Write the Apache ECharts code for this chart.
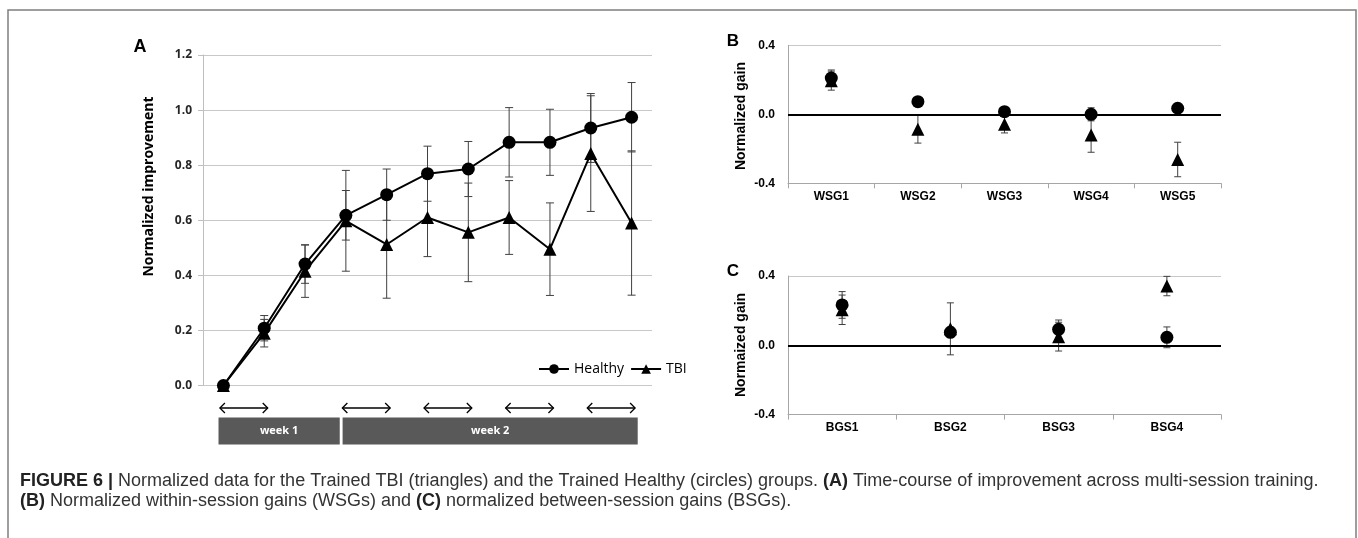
<!DOCTYPE html>
<html><head><meta charset="utf-8">
<script src="https://cdn.jsdelivr.net/npm/echarts@6/dist/echarts.min.js"></script>
<style>html,body{margin:0;padding:0;background:#fff}#c{width:1358px;height:538px}</style>
</head><body><div id="c"></div>
<script>
// ---- Panel A: time course ----
const sessionsA = ['1','2','3','4','5','6','7','8','9','10','11'];
const healthyA = [0.0, 0.208, 0.441, 0.618, 0.693, 0.769, 0.786, 0.883, 0.883, 0.935, 0.974];
const healthyErrA = [0, 0.046, 0.07, 0.09, 0.093, 0.10, 0.10, 0.126, 0.12, 0.125, 0.126];
const tbiA = [0.0, 0.19, 0.415, 0.598, 0.512, 0.61, 0.556, 0.61, 0.495, 0.842, 0.59];
const tbiErrA = [0, 0.05, 0.095, 0.183, 0.195, 0.142, 0.179, 0.134, 0.168, 0.21, 0.262];
const arrowPairsA = [[0,1],[3,4],[5,6],[7,8],[9,10]];
const weekLabels = ['week 1','week 2'];
const weekSpans = [[-0.12, 2.85],[2.92, 10.15]];
// ---- Panel B: within-session gains ----
const wsgCats = ['WSG1','WSG2','WSG3','WSG4','WSG5'];
const healthyB = [0.21, 0.073, 0.015, 0.0, 0.035];
const healthyErrB = [0.047, 0.02, 0.02, 0.038, 0.015];
const tbiB = [0.195, -0.087, -0.058, -0.12, -0.262];
const tbiErrB = [0.055, 0.08, 0.05, 0.1, 0.1];
// ---- Panel C: between-session gains ----
const bsgCats = ['BGS1','BSG2','BSG3','BSG4'];
const healthyC = [0.233, 0.075, 0.092, 0.046];
const healthyErrC = [0.077, 0.03, 0.054, 0.06];
const tbiC = [0.205, 0.095, 0.05, 0.342];
const tbiErrC = [0.085, 0.15, 0.083, 0.056];

const chart = echarts.init(document.getElementById('c'), null, {renderer:'canvas'});

function errData(vals, errs){ return vals.map((v,i)=>[i, v, errs[i]]); }
function errRender(hw, color){
  return function(params, api){
    const x = api.value(0), v = api.value(1), e = api.value(2);
    if (!e) return null;
    const hi = api.coord([x, v + e]), lo = api.coord([x, v - e]);
    const st = {stroke: color, lineWidth: 1};
    return {type:'group', children:[
      {type:'line', shape:{x1:hi[0], y1:hi[1], x2:lo[0], y2:lo[1]}, style:st},
      {type:'line', shape:{x1:hi[0]-hw, y1:hi[1], x2:hi[0]+hw, y2:hi[1]}, style:st},
      {type:'line', shape:{x1:lo[0]-hw, y1:lo[1], x2:lo[0]+hw, y2:lo[1]}, style:st}
    ]};
  };
}
const fA = 'Open Sans', fB = 'Liberation Sans';
const zeroLine = {silent:true, symbol:'none', label:{show:false}, lineStyle:{color:'#000', width:2, type:'solid', opacity:1}, data:[{yAxis:0}]};
const blackMark = {color:'#000', opacity:1};

const option = {
  animation:false,
  grid:[
    {left:203, right:706, top:55, bottom:152.5},
    {left:788, right:137, top:45.3, bottom:354.7},
    {left:788, right:137, top:276, bottom:123.4}
  ],
  legend:{data:['Healthy','TBI'], left:533, top:357, itemWidth:30, itemHeight:12, itemGap:6,
    textStyle:{fontFamily:fA, fontSize:14, color:'#000'}},
  xAxis:[
    {gridIndex:0, type:'category', data:sessionsA, boundaryGap:true,
     axisLine:{show:false}, axisTick:{show:false}, axisLabel:{show:false}},
    {gridIndex:1, type:'category', data:wsgCats, boundaryGap:true,
     axisLine:{onZero:false, lineStyle:{color:'#a6a6a6'}}, axisTick:{show:true, length:5, lineStyle:{color:'#a6a6a6'}},
     axisLabel:{fontFamily:fB, fontWeight:'bold', fontSize:12, color:'#000', margin:7}},
    {gridIndex:2, type:'category', data:bsgCats, boundaryGap:true,
     axisLine:{onZero:false, lineStyle:{color:'#a6a6a6'}}, axisTick:{show:true, length:5, lineStyle:{color:'#a6a6a6'}},
     axisLabel:{fontFamily:fB, fontWeight:'bold', fontSize:12, color:'#000', margin:7}}
  ],
  yAxis:[
    {gridIndex:0, type:'value', min:0, max:1.2, interval:0.2,
     axisLine:{show:true, lineStyle:{color:'#bfbfbf'}}, axisTick:{show:true, length:5, lineStyle:{color:'#bfbfbf'}},
     splitLine:{lineStyle:{color:'#c8c8c8', width:1}},
     axisLabel:{fontFamily:fA, fontWeight:'bold', fontSize:12, color:'#262626', margin:11, formatter:v=>v.toFixed(1)}},
    {gridIndex:1, type:'value', min:-0.4, max:0.4, interval:0.4,
     axisLine:{show:true, lineStyle:{color:'#a6a6a6'}}, axisTick:{show:false},
     splitLine:{lineStyle:{color:'#c8c8c8', width:1}},
     axisLabel:{fontFamily:fB, fontWeight:'bold', fontSize:12, color:'#000', margin:13, formatter:v=>v.toFixed(1)}},
    {gridIndex:2, type:'value', min:-0.4, max:0.4, interval:0.4,
     axisLine:{show:true, lineStyle:{color:'#a6a6a6'}}, axisTick:{show:false},
     splitLine:{lineStyle:{color:'#c8c8c8', width:1}},
     axisLabel:{fontFamily:fB, fontWeight:'bold', fontSize:12, color:'#000', margin:13, formatter:v=>v.toFixed(1)}}
  ],
  series:[
    {type:'custom', name:'errTA', xAxisIndex:0, yAxisIndex:0, z:1, renderItem:errRender(4,'#404040'), data:errData(tbiA, tbiErrA), encode:{x:0,y:1}},
    {type:'custom', name:'errHA', xAxisIndex:0, yAxisIndex:0, z:1, renderItem:errRender(4,'#404040'), data:errData(healthyA, healthyErrA), encode:{x:0,y:1}},
    {type:'line', name:'TBI', xAxisIndex:0, yAxisIndex:0, z:2, data:tbiA, symbol:'triangle', symbolSize:13,
     itemStyle:blackMark, lineStyle:{color:'#000', width:2}},
    {type:'line', name:'Healthy', xAxisIndex:0, yAxisIndex:0, z:3, data:healthyA, symbol:'circle', symbolSize:13,
     itemStyle:blackMark, lineStyle:{color:'#000', width:2}},

    {type:'custom', name:'errTB', xAxisIndex:1, yAxisIndex:1, z:1, renderItem:errRender(3.5,'#404040'), data:errData(tbiB, tbiErrB), encode:{x:0,y:1}},
    {type:'custom', name:'errHB', xAxisIndex:1, yAxisIndex:1, z:1, renderItem:errRender(3.5,'#404040'), data:errData(healthyB, healthyErrB), encode:{x:0,y:1}},
    {type:'scatter', name:'TBI B', xAxisIndex:1, yAxisIndex:1, z:2, data:tbiB, symbol:'triangle', symbolSize:13, itemStyle:blackMark, markLine:zeroLine},
    {type:'scatter', name:'Healthy B', xAxisIndex:1, yAxisIndex:1, z:3, data:healthyB, symbol:'circle', symbolSize:13, itemStyle:blackMark},

    {type:'custom', name:'errTC', xAxisIndex:2, yAxisIndex:2, z:1, renderItem:errRender(3.5,'#404040'), data:errData(tbiC, tbiErrC), encode:{x:0,y:1}},
    {type:'custom', name:'errHC', xAxisIndex:2, yAxisIndex:2, z:1, renderItem:errRender(3.5,'#404040'), data:errData(healthyC, healthyErrC), encode:{x:0,y:1}},
    {type:'scatter', name:'TBI C', xAxisIndex:2, yAxisIndex:2, z:2, data:tbiC, symbol:'triangle', symbolSize:13, itemStyle:blackMark, markLine:zeroLine},
    {type:'scatter', name:'Healthy C', xAxisIndex:2, yAxisIndex:2, z:3, data:healthyC, symbol:'circle', symbolSize:13, itemStyle:blackMark}
  ]
};
chart.setOption(option);

// annotations positioned through the axis scales
const p0 = chart.convertToPixel({xAxisIndex:0}, 0);
const p1 = chart.convertToPixel({xAxisIndex:0}, 1);
const fx = v => p0 + v * (p1 - p0);
const yBase = chart.convertToPixel({yAxisIndex:0}, 0);
const arrowY = yBase + 22.5, barTop = yBase + 32, barH = 27;

const g = [];
g.push({type:'rect', shape:{x:8, y:10, width:1348, height:545}, style:{fill:'none', stroke:'#7f7f7f', lineWidth:1.5}, z:0});
arrowPairsA.forEach(([a,b])=>{
  const xs = fx(a) - 3.5, xe = fx(b) + 3.5, y = arrowY;
  const st = {stroke:'#000', lineWidth:1.3, fill:'none'};
  g.push({type:'line', shape:{x1:xs, y1:y, x2:xe, y2:y}, style:st});
  g.push({type:'polyline', shape:{points:[[xs+5,y-5],[xs,y],[xs+5,y+5]]}, style:st});
  g.push({type:'polyline', shape:{points:[[xe-5,y-5],[xe,y],[xe-5,y+5]]}, style:st});
});
weekSpans.forEach((s,i)=>{
  const x1 = fx(s[0]), x2 = fx(s[1]);
  g.push({type:'rect', shape:{x:x1, y:barTop, width:x2-x1, height:barH}, style:{fill:'#595959'}});
  g.push({type:'text', x:(x1+x2)/2, y:barTop+barH/2, style:{text:weekLabels[i], fill:'#fff', font:'bold 11px "Open Sans"', textAlign:'center', textVerticalAlign:'middle'}});
});
g.push({type:'text', x:140, y:47, style:{text:'A', fill:'#000', font:'bold 18px "Liberation Sans"', textAlign:'center', textVerticalAlign:'middle'}});
g.push({type:'text', x:733, y:41, style:{text:'B', fill:'#000', font:'bold 17px "Liberation Sans"', textAlign:'center', textVerticalAlign:'middle'}});
g.push({type:'text', x:733, y:271, style:{text:'C', fill:'#000', font:'bold 17px "Liberation Sans"', textAlign:'center', textVerticalAlign:'middle'}});
g.push({type:'text', x:149, y:186.5, rotation:Math.PI/2, style:{text:'Normalized improvement', fill:'#000', font:'bold 14px "Open Sans"', textAlign:'center', textVerticalAlign:'middle'}});
g.push({type:'text', x:741, y:116, rotation:Math.PI/2, style:{text:'Normalized gain', fill:'#000', font:'bold 14px "Liberation Sans"', textAlign:'center', textVerticalAlign:'middle'}});
g.push({type:'text', x:741, y:345, rotation:Math.PI/2, style:{text:'Normaized gain', fill:'#000', font:'bold 14px "Liberation Sans"', textAlign:'center', textVerticalAlign:'middle'}});
const capSize = 18;
const rich = {b:{fontWeight:'bold', fontFamily:'Liberation Sans', fontSize:capSize, fill:'#222', color:'#222'}};
g.push({type:'text', x:20, y:481, style:{text:'{b|FIGURE 6 |} Normalized data for the Trained TBI (triangles) and the Trained Healthy (circles) groups. {b|(A)} Time-course of improvement across multi-session training.', rich:rich, fontFamily:'Liberation Sans', fontSize:capSize, fill:'#333', textVerticalAlign:'middle'}});
g.push({type:'text', x:20, y:501, style:{text:'{b|(B)} Normalized within-session gains (WSGs) and {b|(C)} normalized between-session gains (BSGs).', rich:rich, fontFamily:'Liberation Sans', fontSize:capSize, fill:'#333', textVerticalAlign:'middle'}});
chart.setOption({graphic:g});
</script>
</body></html>
